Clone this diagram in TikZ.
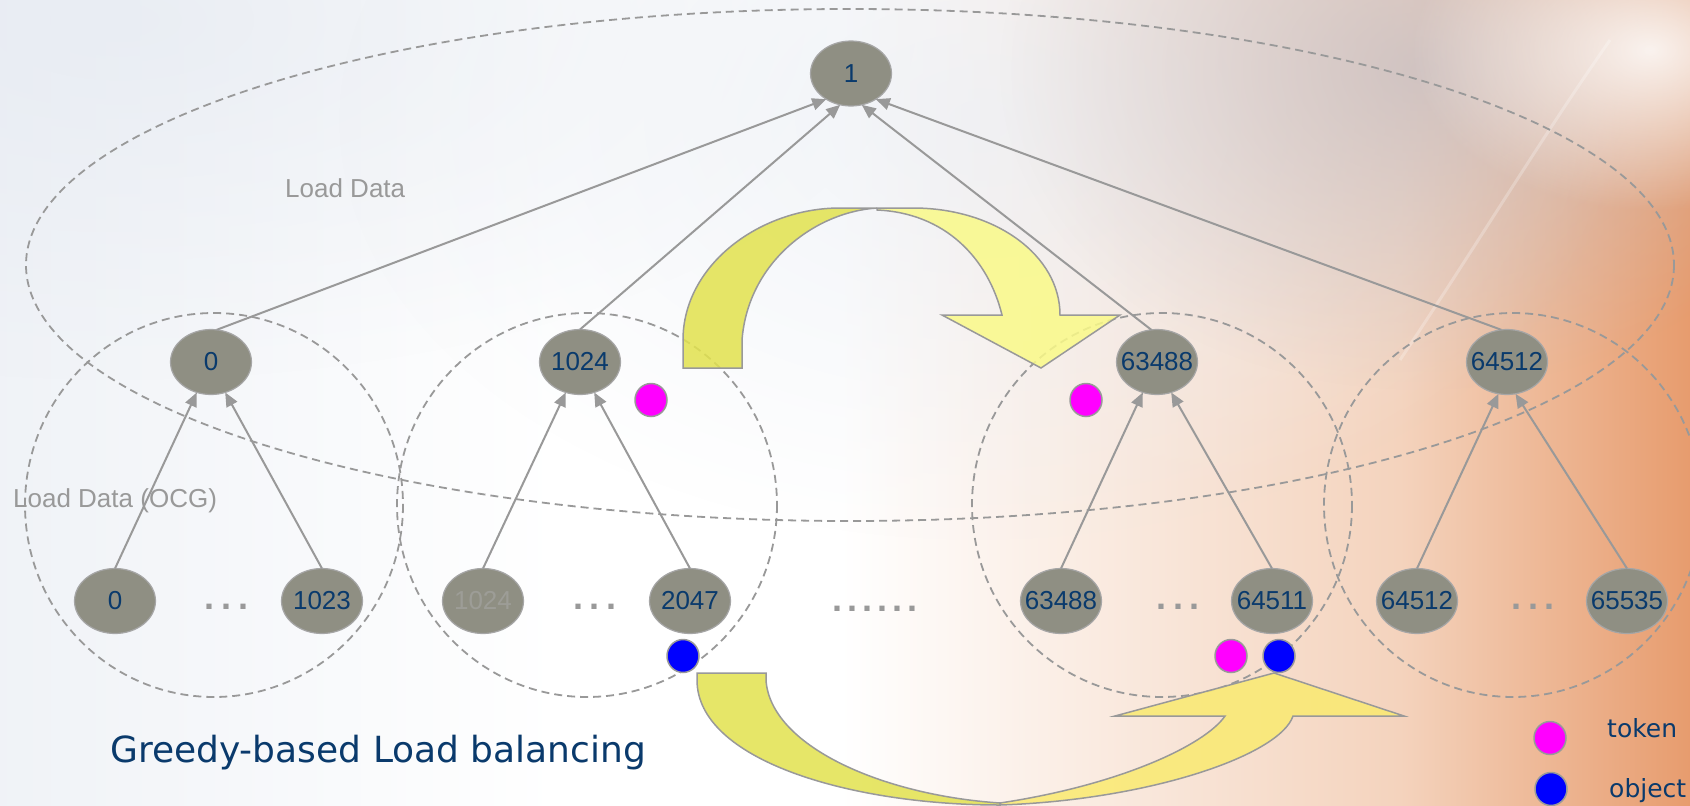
\documentclass[tikz,border=0pt]{standalone}
\usepackage{fontspec}
\setmainfont{Liberation Sans}
\newfontfamily\dejavu{DejaVu Sans}
\usetikzlibrary{arrows.meta,shapes.geometric,fadings}
\definecolor{nodefill}{HTML}{8F8F83}
\definecolor{nodeedge}{HTML}{A6A6A6}
\definecolor{navy}{HTML}{0A3A6C}
\definecolor{lgray}{HTML}{999999}
\definecolor{dimtext}{HTML}{9D9D97}
\definecolor{ydark}{HTML}{E2E24E}
\definecolor{ylight}{HTML}{FAFA88}
\definecolor{ylighttwo}{HTML}{FAEA70}
\definecolor{bgblue}{HTML}{E3E8F0}
\definecolor{peach}{HTML}{F4D3BD}
\definecolor{orangebg}{HTML}{E79C6E}
\definecolor{lav}{HTML}{C6BDC0}
\definecolor{tokmag}{HTML}{FF00FF}
\definecolor{objblue}{HTML}{0000FF}
\tikzfading[name=softfade, inner color=transparent!0, outer color=transparent!100]
\newcommand{\nl}[1]{\makebox[0pt]{#1}}
\begin{document}
\begin{tikzpicture}[x=1pt, y=-1pt,
  tnode/.style={ellipse, fill=nodefill, draw=nodeedge, line width=1.2pt,
    minimum width=81pt, minimum height=65pt, inner sep=0pt, outer sep=0pt,
    text=navy, font=\fontsize{26}{30}\selectfont},
  treearrow/.style={draw=lgray, line width=2pt, -{Triangle[length=14pt,width=12pt]}},
  dashring/.style={draw=lgray, line width=1.8pt, dash pattern=on 8pt off 5pt},
  graylabel/.style={text=lgray, inner sep=0pt, anchor=base west, font=\fontsize{26}{30}\selectfont},
  ellipsisdots/.style={text=lgray, inner sep=0pt, font=\bfseries\fontsize{36}{38}\selectfont},
  tokdot/.style={ellipse, minimum width=32pt, minimum height=33pt, inner sep=0pt, draw=lgray, line width=1.5pt, fill=tokmag},
  objdot/.style={tokdot, fill=objblue},
  yshape/.style={draw=lgray, line width=1.5pt, fill opacity=0.85},
  legendtext/.style={text=navy, inner sep=0pt, anchor=base west, font=\dejavu\fontsize{25}{30}\selectfont}
]
\useasboundingbox (0,0) rectangle (1690,806);
% background
\fill[white] (0,0) rectangle (1690,806);
\shade[left color=bgblue!55, right color=white] (0,0) rectangle (560,806);
\shade[left color=white, right color=peach] (840,0) rectangle (1400,806);
\shade[left color=peach, right color=orangebg] (1400,0) rectangle (1690,806);
\fill[bgblue, path fading=softfade, opacity=0.6] (120,20) ellipse [x radius=800, y radius=360];
\fill[bgblue!70, path fading=softfade, opacity=0.7] (980,120) ellipse [x radius=640, y radius=420];
\fill[lav, path fading=softfade, opacity=0.75] (1420,70) ellipse [x radius=420, y radius=320];
\fill[white, path fading=softfade, opacity=0.85] (1650,50) ellipse [x radius=240, y radius=160];
\draw[white, line width=3pt, opacity=0.25] (1610,40) .. controls (1540,140) and (1480,240) .. (1400,360);

% dashed groups
\draw[dashring] (850,265) ellipse [x radius=824, y radius=256];
\draw[dashring] (214,505) ellipse [x radius=189, y radius=192];
\draw[dashring] (587,505) ellipse [x radius=190, y radius=192];
\draw[dashring] (1162,505) ellipse [x radius=190, y radius=192];
\draw[dashring] (1513,505) ellipse [x radius=189, y radius=192];

% nodes
\node[tnode] (n1) at (851,73.5) {\nl{1}};
\node[tnode] (m0) at (211,362) {\nl{0}};
\node[tnode] (m1) at (580,362) {\nl{1024}};
\node[tnode] (m2) at (1157,362) {\nl{63488}};
\node[tnode] (m3) at (1507,362) {\nl{64512}};
\node[tnode] (l0) at (115,601) {\nl{0}};
\node[tnode] (l1) at (322,601) {\nl{1023}};
\node[tnode, text=dimtext] (l2) at (483,601) {\nl{1024}};
\node[tnode] (l3) at (690,601) {\nl{2047}};
\node[tnode] (l4) at (1061,601) {\nl{63488}};
\node[tnode] (l5) at (1272,601) {\nl{64511}};
\node[tnode] (l6) at (1417,601) {\nl{64512}};
\node[tnode] (l7) at (1627,601) {\nl{65535}};

% tree connectors
\draw[treearrow] (m0.80) -- (n1.226);
\draw[treearrow] (m1.north) -- (n1.251);
\draw[treearrow] (m2.100) -- (n1.289);
\draw[treearrow] (m3.100) -- (n1.314);
\draw[treearrow] (l0.north) -- (m0.245);
\draw[treearrow] (l1.north) -- (m0.295);
\draw[treearrow] (l2.north) -- (m1.245);
\draw[treearrow] (l3.north) -- (m1.295);
\draw[treearrow] (l4.north) -- (m2.245);
\draw[treearrow] (l5.north) -- (m2.295);
\draw[treearrow] (l6.north) -- (m3.255);
\draw[treearrow] (l7.north) -- (m3.285);

% labels
\node[graylabel] (ld) at (285,197) {Load Data};
\node[graylabel] (ldo) at (13,507) {Load Data (OCG)};
\node[text=navy, inner sep=0pt, anchor=base west, font=\dejavu\fontsize{36}{40}\selectfont] (title) at (110,762) {Greedy-based Load balancing};

% ellipsis dots
\node[ellipsisdots] (d1) at (227,607) {.\hspace{7pt}.\hspace{7pt}.};
\node[ellipsisdots] (d2) at (595,607) {.\hspace{7pt}.\hspace{7pt}.};
\node[ellipsisdots] (d3) at (875,609) {.\hspace{5pt}.\hspace{5pt}.\hspace{5pt}.\hspace{5pt}.\hspace{5pt}.};
\node[ellipsisdots] (d4) at (1178,607) {.\hspace{7pt}.\hspace{7pt}.};
\node[ellipsisdots] (d5) at (1533,607) {.\hspace{7pt}.\hspace{7pt}.};

% top yellow arrow
\filldraw[yshape, fill=ydark] (683,368) -- (683,340) .. controls (683,265) and (760,208) .. (840,208) -- (877,208)
  .. controls (815,212) and (748,262) .. (742,340) -- (742,368) -- cycle;
\filldraw[yshape, fill=ylight] (877,208) -- (913,208) .. controls (995,208) and (1060,255) .. (1060,315)
  -- (1120,315) -- (1041,368) -- (942,315) -- (1002,315)
  .. controls (988,258) and (945,213) .. (877,210) -- cycle;

% bottom yellow arrow
\filldraw[yshape, fill=ydark] (697,673) -- (766,673) -- (766,680) .. controls (770,745) and (880,795) .. (1000,803)
  -- (1000,805) .. controls (850,805) and (697,760) .. (697,680) -- cycle;
\filldraw[yshape, fill=ylighttwo] (1000,805) .. controls (1150,800) and (1280,755) .. (1293,716)
  -- (1404,716) -- (1274,673) -- (1115,716) -- (1225,716)
  .. controls (1205,745) and (1120,785) .. (1000,803) -- cycle;

% token / object markers
\node[tokdot] (t1) at (651,400) {};
\node[tokdot] (t2) at (1086,400) {};
\node[objdot] (o1) at (683,656) {};
\node[tokdot] (t3) at (1231,656) {};
\node[objdot] (o2) at (1279,656) {};

% legend
\node[tokdot] (lt) at (1550,738) {};
\node[objdot] (lo) at (1551,789) {};
\node[legendtext] (ltt) at (1607,737) {token};
\node[legendtext] (lot) at (1609,797) {object};
\end{tikzpicture}
\end{document}
